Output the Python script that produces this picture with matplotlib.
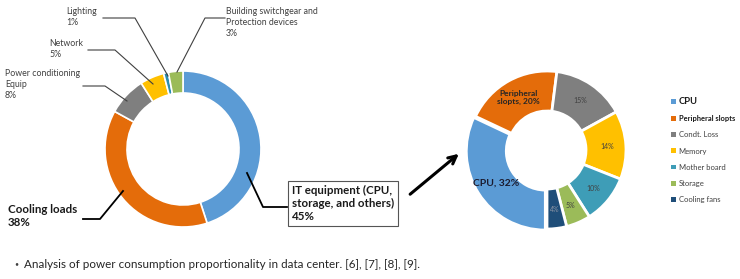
import numpy as np
import matplotlib
matplotlib.use("Agg")
import matplotlib.pyplot as plt

# data center breakdown (left donut)
dc_labels = ["IT equipment (CPU,\nstorage, and others)", "Cooling loads",
             "Power conditioning\nEquip", "Network", "Lighting",
             "Building switchgear and\nProtection devices"]
dc_values = [45, 38, 8, 5, 1, 3]
dc_colors = ["#5B9BD5", "#E46C0A", "#7F7F7F", "#FFC000", "#2C8DB0", "#9BBB59"]

# IT equipment breakdown (right donut)
it_labels = ["CPU", "Peripheral slopts", "Condt. Loss", "Memory",
             "Mother board", "Storage", "Cooling fans"]
it_values = [32, 20, 15, 14, 10, 5, 4]
it_colors = ["#5B9BD5", "#E46C0A", "#7F7F7F", "#FFC000", "#3E9DB7", "#9BBB59", "#1F4E79"]

caption = "Analysis of power consumption proportionality in data center. [6], [7], [8], [9]."

W, H = 740, 279
plt.rcParams['font.family'] = ['Lato', 'DejaVu Sans']

fig = plt.figure(figsize=(W / 100, H / 100), dpi=100)
ax = fig.add_axes([0, 0, 1, 1])


def P(x, y):
    # pixel position (from top-left) -> axes data coords
    return x, H - y


# left donut
wl, _ = ax.pie(dc_values, colors=dc_colors, startangle=90, counterclock=False,
               center=P(183, 149), radius=78,
               wedgeprops=dict(width=22, edgecolor="white", linewidth=1.2))

# right donut, CPU pulled out
explode = [2] + [0] * (len(it_values) - 1)
wr, _ = ax.pie(it_values, colors=it_colors, startangle=270, counterclock=False,
               center=P(547, 150), radius=79, explode=explode,
               wedgeprops=dict(width=40, edgecolor="white", linewidth=2))

ax.set_xlim(0, W)
ax.set_ylim(0, H)
ax.set_aspect("equal")
ax.axis("off")

# in-ring labels of the right donut
for w, lab, v in zip(wr, it_labels, it_values):
    ang = np.deg2rad((w.theta1 + w.theta2) / 2)
    cx, cy = w.center
    r = 0.76 * w.r
    x, y = cx + r * np.cos(ang), cy + r * np.sin(ang)
    if lab == "CPU":
        ax.text(x + 2, y, f"{lab}, {v}%", ha="center", va="center", fontsize=7.5,
                fontweight="bold", color="#1a1a2e")
    elif lab == "Peripheral slopts":
        ax.text(x, y, "Peripheral\nslopts, {}%".format(v), ha="center", va="center",
                fontsize=6, fontweight="bold", color="#262626", linespacing=1.15)
    else:
        col = "#8a93a3" if lab == "Cooling fans" else "#404040"
        ax.text(x, y, f"{v}%", ha="center", va="center", fontsize=5, color=col)

# left donut callouts (small ones)
small = [
    (5, (226, 7), [(177, 72), (205, 18), (225, 18)]),
    (4, (66, 7), [(168, 76), (135, 18), (103, 18)]),
    (3, (49, 39), [(153, 84), (115, 50), (88, 50)]),
    (2, (5, 69), [(127, 101), (105, 86), (83, 86)]),
]
for idx, tpos, pts in small:
    xs, ys = zip(*[P(*p) for p in pts])
    ax.plot(xs, ys, color="#404040", lw=0.8)
    ax.text(*P(*tpos), f"{dc_labels[idx]}\n{dc_values[idx]}%", ha="left", va="top",
            fontsize=6.3, color="#404040", linespacing=1.25)

# cooling loads
xs, ys = zip(*[P(*p) for p in [(123, 191), (100, 219), (83, 219)]])
ax.plot(xs, ys, color="black", lw=1.3)
ax.text(*P(8, 204), f"{dc_labels[1]}\n{dc_values[1]}%", ha="left", va="top",
        fontsize=8.3, fontweight="bold", color="#1a1a1a", linespacing=1.2)

# IT equipment box
xs, ys = zip(*[P(*p) for p in [(247, 173), (263, 207), (287, 207)]])
ax.plot(xs, ys, color="black", lw=1.3)
ax.text(*P(292, 185), f"{dc_labels[0]}\n{dc_values[0]}%", ha="left", va="top",
        fontsize=8.3, fontweight="bold", color="#1a1a1a", linespacing=1.2,
        bbox=dict(boxstyle="square,pad=0.35", fc="white", ec="#555555", lw=0.8))

# arrow to the breakdown
ax.annotate("", xy=P(461, 152), xytext=P(408, 196),
            arrowprops=dict(arrowstyle="->", lw=2.2, color="black", mutation_scale=14))

# legend
leg = ax.legend(wr, it_labels, loc="upper left", bbox_to_anchor=(671 / W, 1 - 97 / H),
                frameon=False, fontsize=5.5, handlelength=0.6, handleheight=0.6,
                handletextpad=0.4, labelspacing=1.2, borderaxespad=0, borderpad=0)
for i, t in enumerate(leg.get_texts()):
    t.set_color("#404040")
    if i == 0:
        t.set_fontweight("bold")
        t.set_fontsize(6.8)
        t.set_color("#1a1a1a")
    elif i == 1:
        t.set_fontweight("bold")
        t.set_fontsize(5.4)
        t.set_color("#1a1a1a")
for h in leg.legend_handles:
    h.set_edgecolor("none")

# caption
ax.text(*P(14, 264), "\u2022", ha="left", va="center", fontsize=5, color="#404040")
ax.text(*P(24, 264), caption, ha="left", va="center", fontsize=8.4, color="#262626")

fig.savefig("out.png", dpi=100)
